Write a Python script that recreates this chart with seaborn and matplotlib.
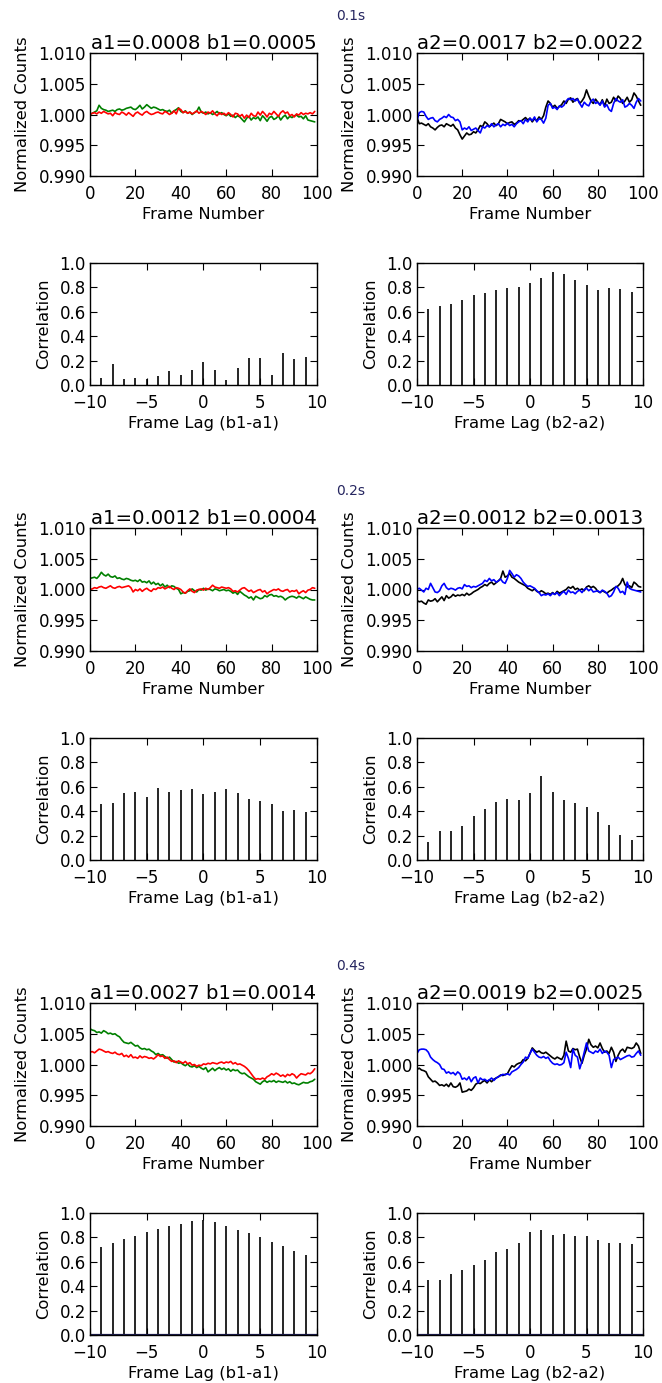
import numpy as np
import pandas as pd
import seaborn as sns
import matplotlib.pyplot as plt

# Zeitreihen: Abweichung von 1.0 in Einheiten von 1e-4, Frames 0..99
frames = np.arange(100)

green_01 = [0, 2, 4, 6, 15, 10, 8, 7, 5, 6, 7, 5, 8, 9, 7, 8, 10, 11, 12, 9,
            8, 11, 15, 9, 12, 16, 13, 10, 12, 11, 9, 7, 8, 6, 5, 7, 2, 6, 8, 11,
            5, 3, 6, 2, 4, 0, 3, 5, 12, 4, 2, 4, 1, 3, 0, 2, 5, 1, 3, 0,
            -2, 1, -3, -1, -5, -2, -4, -8, -12, -6, -3, -9, -5, -7, -4, -10, -2, -6, -11, -5,
            -3, -8, -6, -2, -9, -4, -1, -7, -3, -5, -2, -1, -4, -3, -7, -2, -9, -10, -11, -12]
red_01 = [0, 2, 3, 1, 4, 2, 5, 3, 1, 2, -2, 3, 1, 0, 4, 2, -1, 3, 0, -3,
          2, 4, 1, -1, 3, 5, 2, 0, 1, 3, 4, 2, 1, 5, 3, 0, 2, 6, 1, 10,
          8, 3, 5, 2, 4, 1, 3, 6, 2, 5, 3, 0, 4, 2, 6, 1, -2, 3, 0, 2,
          -1, 3, 0, -4, 2, 1, -3, 0, -6, -1, -5, 2, -2, -3, 4, -1, 5, 1, -4, 2,
          0, 5, 1, -3, 3, 6, 2, 4, -2, 0, -4, 1, -1, 3, 0, 2, 1, 3, 1, 5]
black_01 = [-5, -15, -14, -16, -18, -15, -20, -22, -25, -21, -18, -17, -20, -15, -17, -19, -16, -22, -25, -33,
            -40, -35, -30, -33, -32, -28, -30, -25, -18, -20, -12, -15, -20, -17, -14, -18, -15, -8, -10, -12,
            -15, -13, -12, -16, -14, -10, -11, -8, -5, -9, -6, -12, -7, -10, -4, -8, -2, 12, 22, 18,
            12, 15, 10, 13, 16, 22, 18, 25, 27, 20, 24, 26, 18, 22, 28, 40, 30, 22, 18, 25,
            20, 16, 24, 14, 25, 18, 20, 28, 22, 30, 26, 18, 22, 28, 20, 24, 35, 30, 22, 15]
blue_01 = [-10, 3, 5, 4, -3, -8, -6, -5, -10, -12, -8, -6, -3, -5, 0, -4, -5, -10, -8, -12,
           -25, -22, -24, -20, -26, -24, -22, -26, -30, -20, -22, -18, -20, -15, -20, -17, -15, -20, -16, -18,
           -14, -18, -16, -20, -15, -12, -10, -15, -8, -12, -6, -10, -4, -12, -7, -8, -14, -6, 15, 18,
           10, 12, 8, 14, 12, 15, 22, 26, 24, 26, 22, 25, 18, 12, 20, 16, 14, 22, 25, 18,
           20, 15, 22, 12, 16, 8, 5, 18, 26, 22, 20, 24, 12, 14, 18, 15, 10, 20, 26, 22]

green_02 = [18, 19, 20, 18, 22, 28, 24, 22, 25, 21, 20, 22, 18, 19, 17, 16, 18, 17, 15, 14,
            15, 13, 16, 12, 13, 11, 14, 9, 12, 8, 10, 6, 9, 4, 7, 3, 6, 5, 2, 0,
            -7, -5, -6, -3, -2, 1, -2, -4, 0, -1, 2, -1, 1, 0, -2, 1, 0, -2, -1, 0,
            -2, -1, -3, -6, -4, -8, -3, -6, -9, -11, -14, -12, -17, -11, -13, -15, -14, -10, -12, -9,
            -8, -11, -10, -12, -11, -13, -17, -14, -12, -11, -12, -14, -11, -13, -15, -12, -14, -16, -17, -17]
red_02 = [0, 1, 3, 2, 4, 5, 3, 2, 4, 6, 3, 2, 4, 5, 3, 4, 5, 6, 3, -4,
          0, -2, 1, -3, 0, 2, -1, -3, 1, 0, 3, 2, 4, 1, 3, 5, 2, 0, 3, 2,
          0, -4, -6, -2, 1, -3, -5, -1, 0, 1, -1, 2, 0, 3, 7, 4, 3, 2, 4, 3,
          2, 3, 1, -3, -2, -4, -1, 2, 3, 0, -3, -1, -5, -3, -1, 0, -4, -2, -7, -4,
          -2, 0, -1, 1, -2, -3, -1, 0, -4, -2, -3, -1, -7, -4, -2, -5, -1, 0, 3, 2]
black_02 = [-18, -20, -19, -22, -24, -17, -19, -18, -15, -20, -16, -12, -18, -10, -14, -12, -8, -11, -9, -10,
            -8, -10, -6, -9, -7, -4, -2, 0, 3, 5, 8, 6, 10, 12, 8, 11, 14, 18, 30, 20,
            22, 26, 20, 18, 15, 12, 10, 8, 6, 2, 0, -2, 1, -3, -5, -2, -4, -7, -6, -8,
            -5, -8, -3, -6, -4, -2, 0, 4, 2, 5, 0, 2, -1, 1, -2, 4, 6, 3, 5, 2,
            -3, -5, -2, -4, -6, -3, -1, 2, 4, 6, 10, 18, 8, 4, 6, 3, 12, 9, 5, 4]
blue_02 = [0, 2, -1, -4, 2, 0, 10, 3, -4, -5, -2, 6, 10, 3, 0, 2, 1, -1, 2, 3,
           1, 8, 5, 6, 3, 5, 4, 6, 8, 10, 15, 13, 18, 14, 16, 12, 14, 17, 12, 10,
           18, 31, 26, 20, 24, 22, 18, 12, 8, 5, 6, 4, 2, -2, -5, -10, -8, -9, -7, -10,
           -6, -8, -5, -10, -6, -3, -8, -1, -5, -4, -7, -3, -1, -5, 0, 2, -2, 1, -4, -3,
           -2, -5, -1, -3, -6, -12, -10, -4, 5, 2, -5, -3, -8, 12, 2, 0, -1, -2, -3, -4]

green_04 = [58, 56, 55, 52, 53, 51, 55, 53, 50, 51, 49, 50, 47, 45, 40, 36, 35, 34, 36, 33,
            30, 31, 27, 25, 26, 24, 25, 22, 20, 16, 18, 15, 16, 13, 10, 12, 8, 4, 5, 2,
            3, 0, -2, 1, -3, -4, -2, -5, -3, -6, -8, -5, -12, -9, -6, -10, -7, -5, -8, -6,
            -9, -7, -11, -8, -10, -9, -13, -15, -14, -17, -20, -22, -24, -28, -30, -32, -28, -26, -29, -27,
            -28, -26, -29, -27, -28, -29, -27, -30, -28, -31, -30, -32, -33, -31, -29, -30, -30, -28, -27, -24]
red_04 = [20, 21, 19, 22, 25, 24, 22, 20, 21, 19, 18, 20, 17, 16, 18, 13, 15, 12, 16, 11,
          12, 10, 14, 11, 13, 12, 10, 11, 9, 12, 16, 13, 14, 10, 12, 8, 5, 6, 3, 6,
          4, 2, 5, 1, 3, -1, 0, -3, -1, -2, 1, 0, 2, 1, 3, 2, 1, 3, 4, 2,
          4, 3, 5, 1, 3, 0, 1, -1, -3, -6, -10, -15, -20, -24, -23, -24, -22, -24, -20, -18,
          -15, -17, -14, -16, -19, -17, -20, -16, -18, -15, -17, -22, -18, -15, -16, -17, -14, -15, -12, -7]
black_04 = [-8, -6, -9, -10, -12, -20, -24, -28, -27, -30, -34, -33, -35, -32, -36, -30, -36, -37, -35, -30,
            -45, -44, -43, -40, -42, -38, -32, -30, -31, -28, -26, -30, -25, -28, -24, -22, -20, -17, -18, -16,
            -15, -8, -2, -4, 0, 2, 3, 8, 6, 10, 18, 27, 23, 20, 22, 19, 18, 20, 17, 14,
            11, 9, 12, 10, 8, 15, 38, 22, 20, 26, 24, 25, 12, 2, 15, 25, 41, 32, 28, 30,
            27, 35, 26, 20, 22, 18, 28, 20, 5, 15, 22, 25, 20, 28, 27, 26, 28, 35, 30, 18]
blue_04 = [18, 24, 25, 25, 24, 20, 12, 8, 5, 3, 0, -7, -8, -14, -12, -15, -13, -17, -12, -15,
           -24, -22, -25, -20, -28, -22, -20, -30, -22, -25, -24, -27, -25, -22, -26, -22, -20, -18, -16, -17,
           -15, -17, -12, -10, -8, -5, 0, 4, 12, 10, 18, 25, 20, 15, 12, 11, 13, 10, 12, 6,
           2, 0, 1, -1, 0, 3, 20, 10, -5, 25, 15, 12, -7, 5, 20, 35, 22, 20, 18, 22,
           20, 25, 18, 22, 20, 15, -5, 8, 10, 12, 8, 10, 12, 14, 15, 12, 13, 18, 22, 15]

# Kreuzkorrelation, Lags -9..9
lags = np.arange(-9, 10)
corr1_01 = [0.058, 0.17, 0.05, 0.06, 0.05, 0.077, 0.115, 0.08, 0.126, 0.19,
            0.126, 0.044, 0.143, 0.225, 0.22, 0.082, 0.264, 0.21, 0.233]
corr2_01 = [0.62, 0.648, 0.667, 0.695, 0.736, 0.758, 0.775, 0.794, 0.802, 0.835,
            0.876, 0.926, 0.912, 0.86, 0.819, 0.78, 0.794, 0.786, 0.764]
corr1_02 = [0.46, 0.468, 0.553, 0.56, 0.52, 0.59, 0.56, 0.575, 0.586, 0.537,
            0.56, 0.58, 0.548, 0.5, 0.485, 0.46, 0.405, 0.41, 0.39]
corr2_02 = [0.148, 0.238, 0.24, 0.282, 0.36, 0.414, 0.477, 0.496, 0.49, 0.553,
            0.688, 0.559, 0.488, 0.471, 0.433, 0.397, 0.288, 0.203, 0.164]
corr1_04 = [0.723, 0.753, 0.784, 0.814, 0.844, 0.868, 0.89, 0.907, 0.932, 0.945,
            0.929, 0.896, 0.863, 0.833, 0.8, 0.764, 0.729, 0.69, 0.655]
corr2_04 = [0.449, 0.452, 0.499, 0.534, 0.573, 0.611, 0.677, 0.707, 0.753, 0.844,
            0.863, 0.822, 0.825, 0.808, 0.808, 0.778, 0.756, 0.753, 0.742]

exposures = ['0.1s', '0.2s', '0.4s']
titles_1 = ['a1=0.0008 b1=0.0005', 'a1=0.0012 b1=0.0004', 'a1=0.0027 b1=0.0014']
titles_2 = ['a2=0.0017 b2=0.0022', 'a2=0.0012 b2=0.0013', 'a2=0.0019 b2=0.0025']

pairs_1 = [(green_01, red_01), (green_02, red_02), (green_04, red_04)]
pairs_2 = [(black_01, blue_01), (black_02, blue_02), (black_04, blue_04)]
corrs_1 = [corr1_01, corr1_02, corr1_04]
corrs_2 = [corr2_01, corr2_02, corr2_04]

sns.set_style("ticks")
plt.rcParams.update({
    'font.family': ['DejaVu Sans'],
    'xtick.direction': 'in', 'ytick.direction': 'in',
    'xtick.top': True, 'ytick.right': True,
    'xtick.major.size': 5, 'ytick.major.size': 5,
    'xtick.major.width': 0.8, 'ytick.major.width': 0.8,
    'xtick.major.pad': 6.5, 'ytick.major.pad': 3,
    'axes.linewidth': 1.0, 'axes.edgecolor': 'black',
    'xtick.color': 'black', 'ytick.color': 'black',
    'axes.labelcolor': 'black', 'text.color': 'black',
    'xtick.labelsize': 12, 'ytick.labelsize': 12,
    'axes.labelsize': 11.8, 'axes.titlesize': 14.2,
})

W, H = 662, 1383
fig = plt.figure(figsize=(W / 100, H / 100), dpi=100)


def box(x0, x1, y0, y1):
    return [x0 / W, 1 - y1 / H, (x1 - x0) / W, (y1 - y0) / H]


def series_panel(ax, first, second, c1, c2, title):
    df = pd.DataFrame({'frame': np.concatenate([frames, frames]),
                       'counts': 1 + np.array(first + second) * 1e-4,
                       'line': ['1'] * 100 + ['2'] * 100})
    sns.lineplot(data=df, x='frame', y='counts', hue='line', palette=[c1, c2],
                 linewidth=1.2, legend=False, ax=ax)
    ax.set_xlim(0, 100)
    ax.set_ylim(0.99, 1.01)
    ax.set_xticks(range(0, 101, 20))
    ax.set_yticks([0.990, 0.995, 1.000, 1.005, 1.010])
    ax.set_yticklabels(['0.990', '0.995', '1.000', '1.005', '1.010'])
    ax.set_xlabel('Frame Number', labelpad=3)
    ax.set_ylabel('Normalized Counts', labelpad=6)
    ax.set_title(title, pad=3)


def corr_panel(ax, values, label, baseline=None):
    ax.vlines(lags, 0, values, color='black', linewidth=1.2)
    if baseline:
        ax.axhline(0, color=baseline, linewidth=1.6)
    ax.set_xlim(-10, 10)
    ax.set_ylim(0, 1)
    ax.set_xticks([-10, -5, 0, 5, 10])
    ax.set_yticks(np.arange(0, 1.01, 0.2))
    ax.set_yticklabels(['0.0', '0.2', '0.4', '0.6', '0.8', '1.0'])
    ax.set_xlabel(label, labelpad=3)
    ax.set_ylabel('Correlation', labelpad=6)


for g in range(3):
    off = 475 * g
    base = '#1c1c50' if g == 2 else None
    ax = fig.add_axes(box(90, 317, 53 + off, 176 + off))
    series_panel(ax, pairs_1[g][0], pairs_1[g][1], '#008000', '#ff0000', titles_1[g])
    ax = fig.add_axes(box(417, 643, 53 + off, 176 + off))
    series_panel(ax, pairs_2[g][0], pairs_2[g][1], 'black', '#0000ff', titles_2[g])
    ax = fig.add_axes(box(90, 317, 263 + off, 385 + off))
    corr_panel(ax, corrs_1[g], 'Frame Lag (b1-a1)', base)
    ax = fig.add_axes(box(417, 643, 263 + off, 385 + off))
    corr_panel(ax, corrs_2[g], 'Frame Lag (b2-a2)', base)
    fig.text(351 / W, 1 - (16 + off) / H, exposures[g], ha='center', va='center',
             fontsize=10, color='#262660')

fig.savefig('out.png', dpi=100)
